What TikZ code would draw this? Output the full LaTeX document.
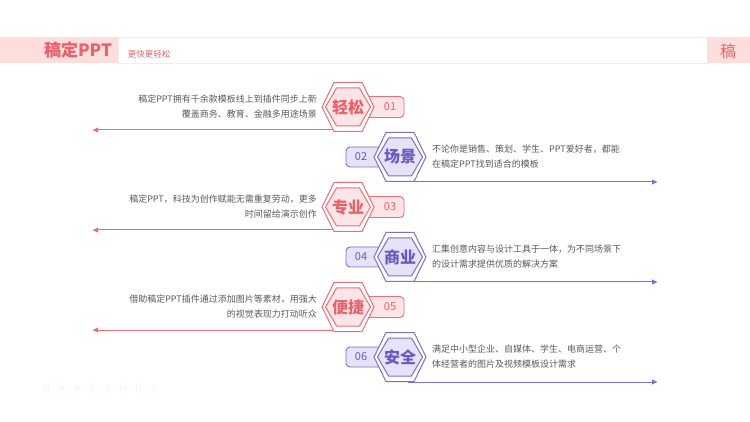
\documentclass[tikz,border=0pt]{standalone}
\usepackage{fontspec}
\setmainfont{Noto Sans CJK SC}
\usetikzlibrary{arrows.meta}
\definecolor{rline}{HTML}{EC6F77}
\definecolor{rfill}{HTML}{FDE4E6}
\definecolor{rtext}{HTML}{E6636C}
\definecolor{hdr}{HTML}{FEDDDD}
\definecolor{hdrline}{HTML}{F3ECEC}
\definecolor{pline}{HTML}{7E6ED3}
\definecolor{pfill}{HTML}{E6E2F8}
\definecolor{ptext}{HTML}{6A59C2}
\definecolor{desc}{HTML}{5A5A5A}
\definecolor{wm}{HTML}{FBF1F1}
\tikzset{
  desctext/.style={text=desc, font=\fontsize{9}{15}\selectfont, inner sep=0pt},
  labred/.style={text=rtext, font=\fontsize{16}{16}\selectfont\bfseries, inner sep=0pt},
  labpur/.style={text=ptext, font=\fontsize{16}{16}\selectfont\bfseries, inner sep=0pt},
  numred/.style={text=rtext, font=\fontsize{11}{11}\selectfont, inner sep=0pt},
  numpur/.style={text=ptext, font=\fontsize{11}{11}\selectfont, inner sep=0pt},
  redarrow/.style={rline, line width=1pt, -{Latex[length=6pt,width=5.5pt]}},
  purarrow/.style={pline, line width=1pt, -{Latex[length=6pt,width=5.5pt]}},
}
\newcommand\myhexa[4]{%
  \begin{scope}[shift={(#1,#2)}]
    \draw[#3, line width=1pt, fill=white] (-26,0) -- (-14,-24.5) -- (14,-24.5) -- (26,0) -- (14,24.5) -- (-14,24.5) -- cycle;
    \draw[#3, line width=1pt, fill=#4] (-22.5,0) -- (-11.5,-19) -- (11.5,-19) -- (22.5,0) -- (11.5,19) -- (-11.5,19) -- cycle;
  \end{scope}}
\newcommand\leftrow[5]{%
  \coordinate (s#2) at (345,#1+23);
  \coordinate (e#2) at (92,#1+23);
  \draw[redarrow] (s#2) -- (e#2);
  \draw[rline, fill=rfill, rounded corners=4pt, line width=0.9pt] (366,#1-10.5) rectangle (404,#1+10.5);
  \node[numred] (n#2) at (390,#1) {#4};
  \myhexa{348}{#1}{rline}{rfill}
  \node[labred] (h#2) at (348,#1) {#3};
  \node[desctext, anchor=east, align=right] (t#2) at (317,#1) {#5};
}
\newcommand\rightrow[5]{%
  \coordinate (s#2) at (408,#1+25);
  \coordinate (e#2) at (658,#1+25);
  \draw[purarrow] (s#2) -- (e#2);
  \draw[pline, fill=pfill, rounded corners=4pt, line width=0.9pt] (346,#1-10) rectangle (386,#1+10);
  \node[numpur] (n#2) at (361,#1) {#4};
  \myhexa{400}{#1}{pline}{pfill}
  \node[labpur] (h#2) at (400,#1) {#3};
  \node[desctext, anchor=west, align=left] (t#2) at (432,#1) {#5};
}
\begin{document}
\begin{tikzpicture}[x=1pt,y=-1pt]
\useasboundingbox (0,0) rectangle (750,422);
\fill[white] (0,0) rectangle (750,422);
% header
\fill[hdr] (0,37) rectangle (118,63);
\draw[hdrline, fill=white] (118,37) rectangle (707,63);
\fill[hdr] (707,37) rectangle (750,63);
\node[text=rtext, font=\fontsize{17}{17}\selectfont\bfseries, inner sep=0pt] (title) at (78,50) {稿定PPT};
\node[text=rtext, font=\fontsize{8.5}{8.5}\selectfont, inner sep=0pt] (sub) at (149,54) {更快更轻松};
\node[text=rtext, font=\fontsize{16}{16}\selectfont, inner sep=0pt] (gao) at (728,51) {稿};
% watermark
\node[text=wm, font=\fontsize{9}{9}\selectfont\addfontfeature{LetterSpace=100}, inner sep=0pt, anchor=west] (wmk) at (43,388) {MANGAMUS};
% rows
\leftrow{107}{1}{轻松}{01}{稿定PPT拥有千余款模板线上到插件同步上新\\覆盖商务、教育、金融多用途场景}
\rightrow{157}{2}{场景}{02}{不论你是销售、策划、学生、PPT爱好者，都能\\在稿定PPT找到适合的模板}
\leftrow{207}{3}{专业}{03}{稿定PPT，科技为创作赋能无需重复劳动，更多\\时间留给演示创作}
\rightrow{257}{4}{商业}{04}{汇集创意内容与设计工具于一体，为不同场景下\\的设计需求提供优质的解决方案}
\leftrow{307}{5}{便捷}{05}{借助稿定PPT插件通过添加图片等素材，用强大\\的视觉表现力打动听众}
\rightrow{357}{6}{安全}{06}{满足中小型企业、自媒体、学生、电商运营、个\\体经营者的图片及视频模板设计需求}
\end{tikzpicture}
\end{document}
